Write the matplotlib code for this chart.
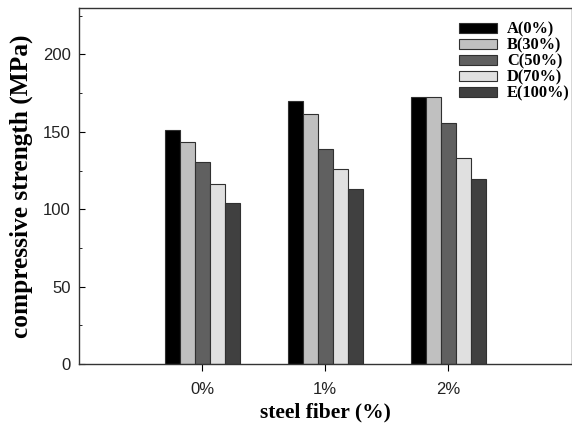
import matplotlib
matplotlib.use("Agg")
import matplotlib.pyplot as plt
from matplotlib.ticker import MultipleLocator
import numpy as np

# steel fiber content on the x axis
fiber = ["0%", "1%", "2%"]
# mixes with different replacement ratios
mixes = ["A(0%)", "B(30%)", "C(50%)", "D(70%)", "E(100%)"]
strength_A = [151.3, 170.2, 172.8]
strength_B = [143.3, 161.6, 172.2]
strength_C = [130.2, 139.2, 156.0]
strength_D = [116.2, 125.9, 133.4]
strength_E = [104.1, 113.1, 119.6]
series = [strength_A, strength_B, strength_C, strength_D, strength_E]
colors = ["#000000", "#c0c0c0", "#606060", "#e0e0e0", "#404040"]

serif_bold = dict(family=["Liberation Serif", "DejaVu Serif"], weight="bold")

fig = plt.figure(figsize=(5.72, 4.36), dpi=100)
ax = fig.add_axes([79 / 572, 72 / 436, 492.5 / 572, 356 / 436])

x = np.arange(len(fiber))
width = 0.122
for i, (vals, col, name) in enumerate(zip(series, colors, mixes)):
    ax.bar(x + (i - 2) * width, vals, width, color=col, edgecolor="#303030",
           linewidth=0.8, label=name)

ax.set_xlim(-1, 3)
ax.set_ylim(0, 230)
ax.set_xticks(x)
ax.set_xticklabels(fiber)
ax.yaxis.set_major_locator(MultipleLocator(50))
ax.yaxis.set_minor_locator(MultipleLocator(25))

for lab in ax.get_xticklabels() + ax.get_yticklabels():
    lab.set_family(["Liberation Sans", "DejaVu Sans"])
    lab.set_fontsize(12)
    lab.set_color("#222222")

ax.tick_params(axis="x", direction="out", length=5, width=0.8, pad=8)
ax.tick_params(axis="y", which="major", direction="in", length=4, width=0.8, pad=6)
ax.tick_params(axis="y", which="minor", direction="in", length=2, width=0.6)

for sp in ax.spines.values():
    sp.set_linewidth(1.0)
    sp.set_color("#333333")

ax.set_ylabel("compressive strength (MPa)", fontsize=18.3, va="center", **serif_bold)
ax.yaxis.set_label_coords(-0.118, 0.5)
ax.set_xlabel("steel fiber (%)", fontsize=15.5, va="center", **serif_bold)
ax.xaxis.set_label_coords(0.5, -0.135)

leg = ax.legend(loc="upper right", bbox_to_anchor=(1.0, 0.966), frameon=False,
                prop=dict(family=["Liberation Serif", "DejaVu Serif"], weight="bold", size=11.8),
                handlelength=2.35, handleheight=0.65, handletextpad=0.6,
                labelspacing=0.0, borderaxespad=0, borderpad=0.1)

fig.savefig("out.png", dpi=100)
